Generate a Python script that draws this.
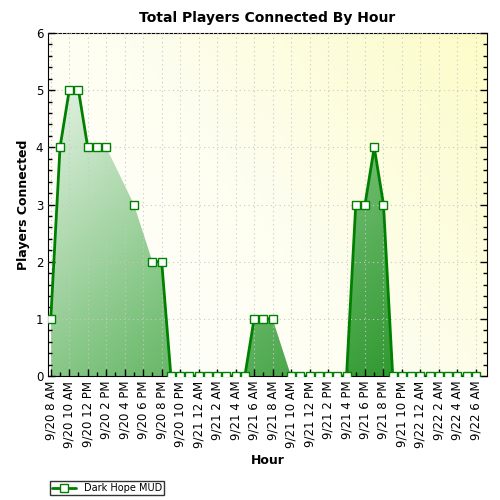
import numpy as np, pandas as pd, seaborn as sns, matplotlib
matplotlib.use("Agg")
import matplotlib.pyplot as plt
from matplotlib.colors import LinearSegmentedColormap
from matplotlib.lines import Line2D
import matplotlib.patches as mpatches

hours = list(range(47))
players = [1,4,5,5,4,4,4,np.nan,np.nan,3,np.nan,2,2,0,0,0,0,0,0,0,0,0,1,1,1,np.nan,
           0,0,0,0,0,0,0,3,3,4,3,0,0,0,0,0,0,0,0,0,0]
tick_labels = ["9/20 8 AM","9/20 10 AM","9/20 12 PM","9/20 2 PM","9/20 4 PM","9/20 6 PM","9/20 8 PM",
               "9/20 10 PM","9/21 12 AM","9/21 2 AM","9/21 4 AM","9/21 6 AM","9/21 8 AM","9/21 10 AM",
               "9/21 12 PM","9/21 2 PM","9/21 4 PM","9/21 6 PM","9/21 8 PM","9/21 10 PM","9/22 12 AM",
               "9/22 2 AM","9/22 4 AM","9/22 6 AM"]
df = pd.DataFrame({"hour": hours, "players": players})

sns.set_style("white")
plt.rcParams['font.family'] = ['DejaVu Sans']
plt.rcParams['text.color'] = 'black'
plt.rcParams['axes.labelcolor'] = 'black'
plt.rcParams['xtick.color'] = 'black'
plt.rcParams['ytick.color'] = 'black'
fig = plt.figure(figsize=(5,5), dpi=100)
ax = fig.add_axes([0.096, 0.248, 0.878, 0.686])
ax.set_xlim(-0.3, 47.2); ax.set_ylim(0, 6)

bg = LinearSegmentedColormap.from_list("bg", ["#ffffff", "#fefef0", "#fcfcc8"])
gx, gy = np.meshgrid(np.linspace(0,1,200), np.linspace(0,1,200))
ax.imshow(gx*0.6+gy*0.4, cmap=bg, extent=[-0.3,47.2,0,6], origin="lower", aspect="auto", zorder=0)

valid = df.dropna()
poly = ax.fill_between(valid.hour, valid.players, 0, color="none")
gcm = LinearSegmentedColormap.from_list("g", ["#f4faf4", "#7cc27c", "#1a8c1a"])
im = ax.imshow(gx*0.55+(1-gy)*0.45, cmap=gcm, extent=[0,47,0,6], origin="lower", aspect="auto", zorder=1)
clip = mpatches.PathPatch(poly.get_paths()[0], transform=ax.transData, facecolor="none", edgecolor="none")
ax.add_patch(clip); im.set_clip_path(clip)

# lines only between consecutive hours (NaN breaks the line)
ax.plot(df.hour, df.players, color="#008000", lw=2, zorder=3)
sns.lineplot(data=df, x="hour", y="players", ax=ax, zorder=4, lw=0,
             marker="s", markersize=5.5, markerfacecolor="white", markeredgecolor="#008000", markeredgewidth=1)

ax.grid(True, color="#c8c8c8", linestyle=(0,(1,3)), lw=0.8)
ax.set_axisbelow(False)
ax.set_xticks(hours[::2]); ax.set_xticklabels(tick_labels, rotation=90, fontsize=8.5)
ax.set_xticks(hours, minor=True)
ax.set_yticks(range(7)); ax.set_yticks(np.arange(0,6.01,0.2), minor=True)
ax.tick_params(axis="both", which="major", direction="out", length=5, labelsize=8.5, width=1)
ax.tick_params(axis="both", which="minor", direction="out", length=3, width=1)
ax.tick_params(bottom=True, left=True, which="both")
ax.tick_params(right=True, which="both", direction="in", labelright=False)
for s in ax.spines.values(): s.set_color("black"); s.set_linestyle("-")
ax.set_xlabel("Hour", fontweight="bold", fontsize=9)
ax.set_ylabel("Players Connected", fontweight="bold", fontsize=9)
ax.set_title("Total Players Connected By Hour", fontweight="bold", fontsize=10, pad=8, color="black")
h = Line2D([0],[0], color="#008000", lw=2, marker="s", markersize=5.5, markerfacecolor="white")
fig.legend([h], ["Dark Hope MUD"], loc="lower left", bbox_to_anchor=(0.09, 0.0), fontsize=7,
           frameon=True, fancybox=False, edgecolor="black", borderpad=0.2, handlelength=2.5)
fig.savefig("out.png", dpi=100)
